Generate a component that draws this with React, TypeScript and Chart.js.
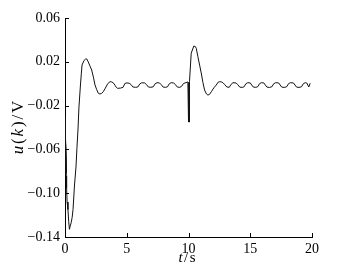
import React, { useEffect, useRef } from "react";
import { Chart, registerables } from "chart.js";

Chart.register(...registerables);

// time samples (s)
const tValues = [
  0, 0.09, 0.0, 0.09, 0.01, 0.1, 0.13, 0.17, 0.24, 0.3,
  0.36, 0.42,
  0.5, 0.58, 0.65, 0.77, 0.89, 0.97, 1.05, 1.13, 1.25, 1.32,
  1.38, 1.54, 1.66, 1.76, 1.88, 2.03, 2.16, 2.3, 2.43, 2.57,
  2.7, 2.83, 2.97, 3.1, 3.27, 3.46, 3.64, 3.78, 3.9, 4.05,
  4.15, 4.25,
  4.5, 4.7, 4.85, 5.0, 5.2, 5.35, 5.5, 5.7, 5.9, 6.05,
  6.2, 6.45, 6.6, 6.75, 6.95, 7.15, 7.3, 7.45, 7.65, 7.8,
  7.95, 8.15, 8.3, 8.45, 8.6, 8.8, 8.95, 9.1, 9.3, 9.45,
  9.6, 9.8, 9.95,
  10.0, 10.02, 10.05, 10.08, 10.22, 10.43, 10.55, 10.63, 10.76, 10.9,
  11.03, 11.17, 11.3, 11.45, 11.57, 11.7, 11.85, 12.05, 12.25, 12.4,
  12.52, 12.65, 12.79, 12.95, 13.1,
  13.3, 13.45, 13.6, 13.85, 14.0, 14.15, 14.35, 14.5, 14.65, 14.8,
  15.0, 15.12, 15.25, 15.45, 15.6, 15.75, 15.9, 16.1, 16.22, 16.35,
  16.55, 16.75, 16.9, 17.05, 17.3, 17.42, 17.55, 17.75, 17.95, 18.1,
  18.25, 18.5, 18.62, 18.75, 18.95, 19.15, 19.3, 19.45, 19.58, 19.66,
  19.74, 19.85,
];

// control signal u(k) (V)
const uValues = [
  -0.03, -0.08, -0.032, -0.082, -0.031, -0.084, -0.095, -0.108, -0.115, -0.126,
  -0.133, -0.13,
  -0.127, -0.122, -0.115, -0.0925, -0.076, -0.058, -0.0423, -0.0213, -0.0012, 0.009,
  0.0171, 0.0212, 0.0225, 0.0226, 0.02, 0.016, 0.0125, 0.006, -0.0012, -0.0055,
  -0.0088, -0.0094, -0.0088, -0.0073, -0.004, 0.0, 0.0018, 0.0016, 0.0009, -0.0014,
  -0.0033, -0.0042,
  -0.004, -0.0033, 0.0002, 0.0007, 0.0004, -0.0008, -0.003, -0.0033, -0.003, -0.0003,
  0.0008, 0.0007, -0.0008, -0.003, -0.0033, -0.0028, 0.0, 0.0009, 0.0007, -0.001,
  -0.0031, -0.0033, -0.0028, 0.0, 0.0009, 0.0007, -0.001, -0.0031, -0.0033, -0.0023,
  0.0002, 0.001, 0.0016,
  -0.035, 0.0012, -0.035, 0.002, 0.0278, 0.0344, 0.034, 0.0323, 0.0247, 0.017,
  0.0098, 0.001, -0.0058, -0.0093, -0.0104, -0.0098, -0.0073, -0.0038, -0.0012, 0.0014,
  0.0018, 0.0017, 0.0009, -0.001, -0.003,
  -0.0033, -0.0006, 0.0009, 0.0007, -0.001, -0.0031, -0.0034, -0.0028, 0.0, 0.0009,
  0.0007, -0.0012, -0.0031, -0.0033, -0.0028, 0.0, 0.0009, 0.0007, -0.0012, -0.0031,
  -0.0034, -0.0028, 0.0, 0.0009, 0.0007, -0.0012, -0.0031, -0.0034, -0.0028, 0.0,
  0.0009, 0.0007, -0.0012, -0.0031, -0.0034, -0.0028, 0.0, 0.0009, 0.0006, -0.0012,
  -0.003, 0.0004,
];

const xTickValues = [0, 5, 10, 15, 20];
const yTickValues = [-0.14, -0.1, -0.06, -0.02, 0.02, 0.06];

const SERIF = '"Liberation Serif", "DejaVu Serif", serif';

const fmtY = (v: number) => {
  const s = Math.abs(v).toFixed(2);
  return v < 0 ? "\u2212" + s : s;
};

const axisDecor = {
  id: "axisDecor",
  afterDraw(chart: any) {
    const { ctx, chartArea, scales } = chart;
    const xs = scales.x;
    const ys = scales.y;
    ctx.save();
    ctx.strokeStyle = "#000";
    ctx.lineWidth = 1;
    ctx.beginPath();
    for (const v of yTickValues) {
      const y = Math.round(ys.getPixelForValue(v)) + 0.5;
      ctx.moveTo(chartArea.left, y);
      ctx.lineTo(chartArea.left + 4, y);
    }
    for (const v of xTickValues) {
      const x = Math.round(xs.getPixelForValue(v)) + 0.5;
      ctx.moveTo(x, chartArea.bottom);
      ctx.lineTo(x, chartArea.bottom - 4);
    }
    ctx.stroke();

    // axis titles with italic variable names, drawn glyph by glyph with spacing
    const drawParts = (
      parts: [string, boolean][],
      cx: number,
      cy: number,
      rot: number,
      size: number,
      spacing: number
    ) => {
      ctx.save();
      ctx.translate(cx, cy);
      ctx.rotate(rot);
      ctx.fillStyle = "#000";
      ctx.textBaseline = "middle";
      ctx.textAlign = "left";
      const glyphs: { ch: string; font: string; w: number }[] = [];
      parts.forEach(([txt, it]) => {
        const font = (it ? "italic " : "") + size + "px " + SERIF;
        ctx.font = font;
        for (const ch of txt) glyphs.push({ ch, font, w: ctx.measureText(ch).width });
      });
      const total =
        glyphs.reduce((a, g) => a + g.w, 0) + spacing * (glyphs.length - 1);
      let x = -total / 2;
      glyphs.forEach((g) => {
        ctx.font = g.font;
        ctx.fillText(g.ch, x, 0);
        x += g.w + spacing;
      });
      ctx.restore();
    };
    const midY = (chartArea.top + chartArea.bottom) / 2;
    drawParts([["t", true], ["/s", false]], 187, 258, 0, 15, 1.5);
    drawParts(
      [["u", true], ["(", false], ["k", true], [")/V", false]],
      19,
      midY,
      -Math.PI / 2,
      17,
      1.8
    );
    ctx.restore();
  },
};

export default function App() {
  const ref = useRef<HTMLCanvasElement>(null);
  useEffect(() => {
    if (!ref.current) return;
    const n = Math.min(tValues.length, uValues.length);
    const points = [];
    for (let i = 0; i < n; i++) points.push({ x: tValues[i], y: uValues[i] });
    const chart = new Chart(ref.current, {
      type: "line",
      data: {
        datasets: [
          {
            data: points,
            borderColor: "#111",
            borderWidth: 1,
            pointRadius: 0,
            tension: 0,
            fill: false,
          },
        ],
      },
      options: {
        animation: false,
        responsive: false,
        maintainAspectRatio: false,
        layout: { padding: { left: 0, top: 18, right: 29, bottom: 0 } },
        plugins: { legend: { display: false }, tooltip: { enabled: false } },
        scales: {
          x: {
            type: "linear",
            min: 0,
            max: 20,
            afterBuildTicks: (s: any) => {
              s.ticks = xTickValues.map((v) => ({ value: v }));
            },
            afterFit: (s: any) => {
              s.height = 33;
              s.paddingLeft = 0;
              s.paddingRight = 0;
            },
            grid: { display: false, drawTicks: false },
            border: { display: true, color: "#000", width: 1 },
            ticks: {
              color: "#000",
              padding: 4,
              maxRotation: 0,
              font: { family: SERIF, size: 14 },
              callback: (v: any) => String(v),
            },
          },
          y: {
            type: "linear",
            min: -0.14,
            max: 0.06,
            afterBuildTicks: (s: any) => {
              s.ticks = yTickValues.map((v) => ({ value: v }));
            },
            afterFit: (s: any) => {
              s.width = 65;
              s.paddingTop = 0;
              s.paddingBottom = 0;
            },
            grid: { display: false, drawTicks: false },
            border: { display: true, color: "#000", width: 1 },
            ticks: {
              color: "#000",
              padding: 5,
              font: { family: SERIF, size: 14 },
              callback: (v: any) => fmtY(Number(v)),
            },
          },
        },
      },
      plugins: [axisDecor],
    });
    return () => chart.destroy();
  }, []);
  return (
    <div style={{ position: "absolute", left: 0, top: 0, width: 341, height: 270, background: "#fff" }}>
      <canvas ref={ref} width={341} height={270} style={{ display: "block" }} />
    </div>
  );
}
